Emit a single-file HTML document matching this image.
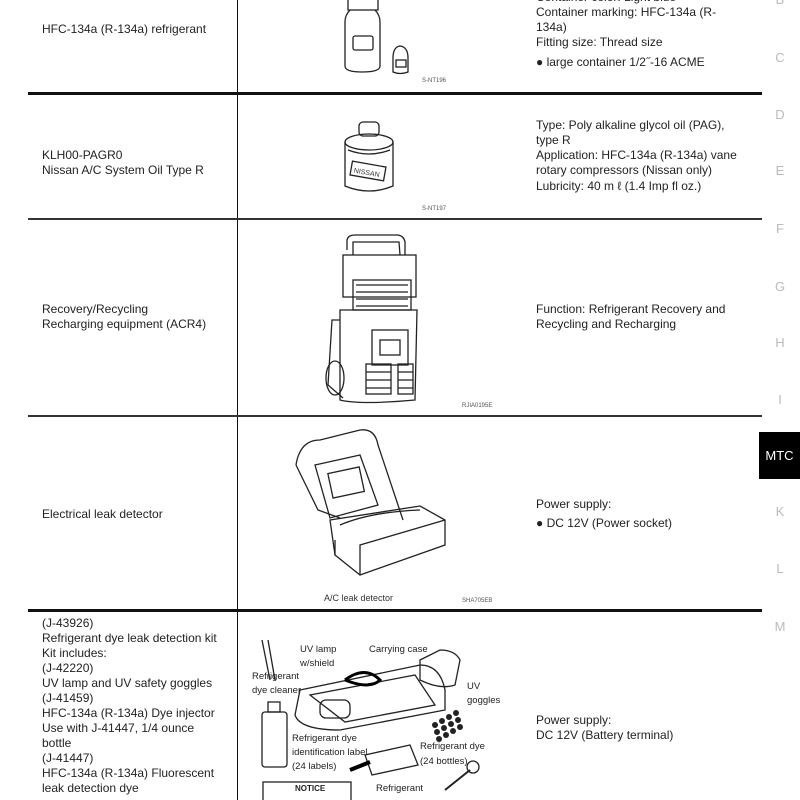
<!DOCTYPE html>
<html><head><meta charset="utf-8"><style>
html,body{margin:0;padding:0;background:#fff;}
body{width:800px;height:800px;position:relative;overflow:hidden;font-family:"Liberation Sans",Arial,sans-serif;font-size:12px;color:#222;}
.t{position:absolute;white-space:nowrap;line-height:15px;}
.h{position:absolute;left:28px;width:734px;background:#111;}
.tab{position:absolute;left:770px;width:20px;text-align:center;color:#bbb;font-size:13px;}
.cap{position:absolute;font-size:6px;color:#555;}
</style></head><body>
<div style="position:absolute;left:237px;top:0;width:1px;height:800px;background:#111"></div>
<div class="h" style="top:92px;height:3px"></div>
<div class="h" style="top:218px;height:2px;background:#333"></div>
<div class="h" style="top:415px;height:2px;background:#333"></div>
<div class="h" style="top:609px;height:3px"></div>

<div class="tab" style="top:-8px">B</div>
<div class="tab" style="top:50px">C</div>
<div class="tab" style="top:107px">D</div>
<div class="tab" style="top:163px">E</div>
<div class="tab" style="top:221px">F</div>
<div class="tab" style="top:279px">G</div>
<div class="tab" style="top:335px">H</div>
<div class="tab" style="top:392px">I</div>
<div style="position:absolute;left:759px;top:432px;width:41px;height:47px;background:#000;color:#fff;font-size:13px;line-height:47px;text-align:center">MTC</div>
<div class="tab" style="top:504px">K</div>
<div class="tab" style="top:561px">L</div>
<div class="tab" style="top:619px">M</div>

<div class="t" style="left:42px;top:22px">HFC-134a (R-134a) refrigerant</div>
<div class="t" style="left:42px;top:148px">KLH00-PAGR0<br>Nissan A/C System Oil Type R</div>
<div class="t" style="left:42px;top:302px">Recovery/Recycling<br>Recharging equipment (ACR4)</div>
<div class="t" style="left:42px;top:507px">Electrical leak detector</div>
<div class="t" style="left:42px;top:616px">(J-43926)<br>Refrigerant dye leak detection kit<br>Kit includes:<br>(J-42220)<br>UV lamp and UV safety goggles<br>(J-41459)<br>HFC-134a (R-134a) Dye injector<br>Use with J-41447, 1/4 ounce<br>bottle<br>(J-41447)<br>HFC-134a (R-134a) Fluorescent<br>leak detection dye</div>

<div class="t" style="left:536px;top:-10px">Container color: Light blue<br>Container marking: HFC-134a (R-<br>134a)<br>Fitting size: Thread size</div>
<div class="t" style="left:536px;top:55px">● large container 1/2˝-16 ACME</div>
<div class="t" style="left:536px;top:118px">Type: Poly alkaline glycol oil (PAG),<br>type R<br>Application: HFC-134a (R-134a) vane<br>rotary compressors (Nissan only)</div>
<div class="t" style="left:536px;top:179px">Lubricity: 40 m ℓ (1.4 Imp fl oz.)</div>
<div class="t" style="left:536px;top:302px">Function: Refrigerant Recovery and<br>Recycling and Recharging</div>
<div class="t" style="left:536px;top:497px">Power supply:</div>
<div class="t" style="left:536px;top:516px">● DC 12V (Power socket)</div>
<div class="t" style="left:536px;top:713px">Power supply:<br>DC 12V (Battery terminal)</div>

<div class="cap" style="left:422px;top:78px">S-NT196</div>
<div class="cap" style="left:422px;top:206px">S-NT197</div>
<div class="cap" style="left:462px;top:403px">RJIA0195E</div>
<div class="cap" style="left:462px;top:598px">SHA705EB</div>

<svg style="position:absolute;left:0;top:0" width="800" height="800" fill="none" stroke="#222" stroke-width="1.3">
<rect x="348" y="-5" width="30" height="15"/>
<path d="M350 10 Q345 15 345 22 L345 66 Q345 72 362 72 Q380 72 380 66 L380 22 Q380 15 375 10"/>
<rect x="353" y="36" width="20" height="14" rx="2"/>
<path d="M393 58 L393 72 Q400 75 408 72 L408 58 Q408 47 400 46 Q393 47 393 58Z"/>
<rect x="396" y="60" width="10" height="7"/>
<rect x="359" y="122" width="20" height="14" rx="4"/>
<ellipse cx="369" cy="142" rx="24" ry="8"/>
<path d="M345 142 L345 186 Q369 196 393 186 L393 142"/>
<path d="M348 150 Q369 158 390 150"/>
<rect x="351" y="164" width="34" height="14" transform="rotate(10 368 171)"/>
<text x="354" y="175" font-size="7" fill="#333" stroke="none" transform="rotate(10 368 171)">NISSAN</text>
<path d="M347 250 L347 240 Q348 235 355 235 L398 235 Q404 236 405 242 L405 255"/>
<path d="M353 255 L353 242 L399 242 L400 255"/>
<rect x="343" y="255" width="73" height="42"/>
<rect x="353" y="280" width="58" height="30"/>
<path d="M356 285 h52 M356 292 h52 M356 299 h52 M356 306 h52"/>
<path d="M340 310 L340 400 Q360 405 415 400 L417 310 Z"/>
<rect x="372" y="330" width="36" height="35"/>
<rect x="380" y="340" width="20" height="15"/>
<rect x="366" y="364" width="25" height="30"/>
<rect x="398" y="364" width="15" height="30"/>
<path d="M366 372 h25 M366 380 h25 M366 388 h25 M398 372 h15 M398 380 h15 M398 388 h15"/>
<path d="M340 320 L332 320 L328 385 L343 398"/>
<ellipse cx="335" cy="378" rx="9" ry="17"/>
<path d="M296 465 Q300 440 320 440 L360 430 Q375 428 378 445 L403 520"/>
<path d="M296 465 L318 510 L340 518"/>
<path d="M315 465 L360 455 L378 505 L330 518 Z"/>
<rect x="330" y="470" width="32" height="25" transform="rotate(-12 346 482)"/>
<path d="M330 520 L420 506 L445 520 L445 545 L360 575 L335 555 Z"/>
<path d="M335 555 L335 540 M360 575 L360 545 L445 520"/>
<path d="M340 525 Q370 512 420 510"/>
<text x="324" y="601" font-size="9" fill="#333" stroke="none">A/C leak detector</text>
<path d="M262 640 L270 680 M268 640 L275 680"/>
<path d="M300 690 L420 665 Q440 665 445 690 L445 710 L340 730 Q300 730 295 715 Z"/>
<path d="M310 695 L415 675 L435 705 L345 722 Z"/>
<path d="M345 680 Q365 665 380 680 Q370 690 345 680" stroke="#000" stroke-width="3"/>
<rect x="320" y="700" width="30" height="18" rx="6"/>
<rect x="262" y="712" width="25" height="55" rx="3"/>
<rect x="268" y="702" width="12" height="10"/>
<path d="M420 660 L440 650 Q455 650 460 660 L455 685 Q440 690 420 680 Z"/>
<g fill="#222" stroke="none">
<circle cx="435" cy="725" r="3"/><circle cx="442" cy="721" r="3"/><circle cx="449" cy="717" r="3"/><circle cx="456" cy="713" r="3"/>
<circle cx="437" cy="732" r="3"/><circle cx="444" cy="728" r="3"/><circle cx="451" cy="724" r="3"/><circle cx="458" cy="720" r="3"/>
<circle cx="439" cy="739" r="3"/><circle cx="446" cy="735" r="3"/><circle cx="453" cy="731" r="3"/><circle cx="460" cy="727" r="3"/>
</g>
<path d="M365 755 L410 745 L418 765 L372 775 Z"/>
<path d="M350 770 L370 762" stroke="#000" stroke-width="4"/>
<rect x="263" y="782" width="88" height="20" fill="#fff"/>
<path d="M445 790 L470 770" stroke-width="2"/>
<circle cx="473" cy="767" r="6"/>
<g fill="#222" stroke="none" font-size="9.5">
<text x="300" y="652">UV lamp</text>
<text x="300" y="666">w/shield</text>
<text x="369" y="652">Carrying case</text>
<text x="252" y="679">Refrigerant</text>
<text x="252" y="693">dye cleaner</text>
<text x="467" y="689">UV</text>
<text x="467" y="703">goggles</text>
<text x="292" y="741">Refrigerant dye</text>
<text x="292" y="755">identification label</text>
<text x="292" y="769">(24 labels)</text>
<text x="420" y="749">Refrigerant dye</text>
<text x="420" y="764">(24 bottles)</text>
<text x="376" y="791">Refrigerant</text>
<text x="295" y="791" font-size="8" font-weight="bold">NOTICE</text>
</g>
</svg>
</body></html>
